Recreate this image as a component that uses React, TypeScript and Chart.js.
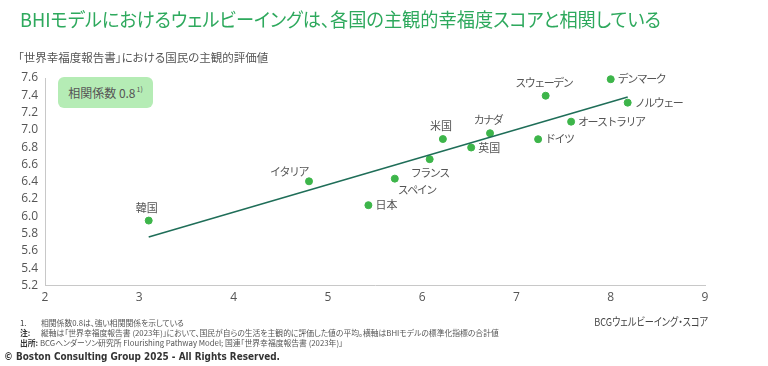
import React, { useEffect, useRef } from "react";
import { Chart, registerables } from "chart.js";

Chart.register(...registerables);

const countries = ["韓国", "イタリア", "日本", "スペイン", "フランス", "米国", "英国", "カナダ", "ドイツ", "オーストラリア", "スウェーデン", "デンマーク", "ノルウェー"];
const bhiScores = [3.10, 4.80, 5.43, 5.71, 6.08, 6.22, 6.52, 6.72, 7.23, 7.58, 7.31, 8.00, 8.18];
const happinessScores = [5.951, 6.405, 6.129, 6.436, 6.661, 6.894, 6.796, 6.961, 6.892, 7.095, 7.395, 7.586, 7.315];
const labelPlacement = ["above", "aboveLeft", "right", "belowRight", "below", "above", "right", "above", "right", "right", "above", "right", "right"];
const trendX = [3.10, 8.18];
const trendY = [5.76, 7.38];
const xTicks = [2, 3, 4, 5, 6, 7, 8, 9];
const yTicks = [5.2, 5.4, 5.6, 5.8, 6.0, 6.2, 6.4, 6.6, 6.8, 7.0, 7.2, 7.4, 7.6];

const LABEL_FONT = '11px "Noto Sans CJK JP"';

const pointLabelPlugin = {
  id: "pointLabels",
  afterDatasetsDraw(chart: any) {
    const ctx = chart.ctx;
    const xs = chart.scales.x;
    const ys = chart.scales.y;
    ctx.save();
    ctx.font = LABEL_FONT;
    ctx.fillStyle = "#555";
    countries.forEach((name, i) => {
      const px = xs.getPixelForValue(bhiScores[i]);
      const py = ys.getPixelForValue(happinessScores[i]);
      const kana = /[\u30A0-\u30FF]/.test(name);
      (ctx as any).letterSpacing = kana ? "-1.5px" : "0px";
      ctx.textBaseline = "middle";
      const p = labelPlacement[i];
      if (p === "above") {
        ctx.textAlign = "center";
        ctx.fillText(name, px - 2, py - 13);
      } else if (p === "below") {
        ctx.textAlign = "center";
        ctx.fillText(name, px, py + 14);
      } else if (p === "right") {
        ctx.textAlign = "left";
        ctx.fillText(name, px + 7, py);
      } else if (p === "aboveLeft") {
        ctx.textAlign = "center";
        ctx.fillText(name, px - 20, py - 10);
      } else if (p === "belowRight") {
        ctx.textAlign = "center";
        ctx.fillText(name, px + 22, py + 11);
      }
    });
    ctx.restore();
  },
};

export default function App() {
  const canvasRef = useRef<HTMLCanvasElement>(null);

  useEffect(() => {
    if (!canvasRef.current) return;
    const chart = new Chart(canvasRef.current, {
      type: "scatter",
      data: {
        datasets: [
          {
            label: "trend",
            type: "line" as any,
            data: trendX.map((x, i) => ({ x, y: trendY[i] })),
            borderColor: "#1f6e58",
            borderWidth: 1.5,
            pointRadius: 0,
            fill: false,
            showLine: true,
            clip: false,
          } as any,
          {
            label: "countries",
            data: bhiScores.map((x, i) => ({ x, y: happinessScores[i] })),
            backgroundColor: "#3db54a",
            borderColor: "#3db54a",
            pointRadius: 3.5,
            pointHoverRadius: 3.5,
            clip: false,
          } as any,
        ],
      },
      options: {
        animation: false,
        responsive: false,
        maintainAspectRatio: false,
        events: [],
        layout: { padding: { left: 0, right: 63, top: 78, bottom: 0 } },
        plugins: { legend: { display: false }, tooltip: { enabled: false } },
        scales: {
          x: {
            type: "linear",
            min: 2,
            max: 9,
            afterFit: (s: any) => { s.height = 80.5; },
            afterBuildTicks: (s: any) => { s.ticks = xTicks.map((v) => ({ value: v })); },
            grid: { display: false, drawTicks: false },
            border: { display: true, color: "#c8c8c8", width: 1 },
            ticks: { padding: 5, autoSkip: false, maxRotation: 0, color: "#555", font: { family: "'Open Sans'", size: 12 } },
          },
          y: {
            type: "linear",
            min: 5.2,
            max: 7.6,
            afterFit: (s: any) => { s.width = 45; },
            afterBuildTicks: (s: any) => { s.ticks = yTicks.map((v) => ({ value: v })); },
            grid: { display: false, drawTicks: false },
            border: { display: true, color: "#c8c8c8", width: 1 },
            ticks: {
              padding: 7,
              autoSkip: false,
              color: "#555",
              font: { family: "'Open Sans'", size: 12 },
              callback: (v: any) => Number(v).toFixed(1),
            },
          },
        },
      },
      plugins: [pointLabelPlugin],
    });
    return () => chart.destroy();
  }, []);

  const jp = '"Noto Sans CJK JP", sans-serif';
  const abs = (o: any): React.CSSProperties => ({ position: "absolute", whiteSpace: "nowrap", fontFeatureSettings: '"palt"', ...o });

  return (
    <div style={{ position: "absolute", left: 0, top: 0, width: 768, height: 366, background: "#fff", overflow: "hidden", fontFamily: jp }}>
      <canvas ref={canvasRef} width={768} height={366} style={{ position: "absolute", left: 0, top: 0, width: 768, height: 366 }} />
      <div style={abs({ left: 20, top: 6, fontSize: 19, color: "#2ea95d", lineHeight: "26px", transform: "scaleX(0.958)", transformOrigin: "left center" })}>
        BHIモデルにおけるウェルビーイングは、各国の主観的幸福度スコアと相関している
      </div>
      <div style={abs({ left: 18, top: 49, fontSize: 11.5, color: "#555", lineHeight: "16px" })}>
        「世界幸福度報告書」における国民の主観的評価値
      </div>
      <div style={abs({ left: 58, top: 77, width: 95, height: 31, borderRadius: 6, background: "#b5ecb5", display: "flex", alignItems: "center", justifyContent: "center", fontSize: 12, color: "#555" })}>
        <span>相関係数 0.8</span><span style={{ fontSize: 7, position: "relative", top: -4, marginLeft: 1 }}>1)</span>
      </div>
      <div style={abs({ right: 60, top: 313, fontSize: 11, color: "#444", lineHeight: "16px", transform: "scaleX(0.83)", transformOrigin: "right center" })}>
        BCGウェルビーイング・スコア
      </div>
      <div style={abs({ left: 20, top: 318, fontSize: 7.8, color: "#555", lineHeight: "10px" })}>
        <div><span style={{ display: "inline-block", width: 21, color: "#333" }}>1.</span>相関係数0.8は、強い相関関係を示している</div>
        <div><span style={{ display: "inline-block", width: 21, fontWeight: 700, color: "#333" }}>注:</span>縦軸は「世界幸福度報告書 (2023年)」において、国民が自らの生活を主観的に評価した値の平均。横軸はBHIモデルの標準化指標の合計値</div>
        <div><span style={{ fontWeight: 700, color: "#333" }}>出所: </span>BCGヘンダーソン研究所 Flourishing Pathway Model; 国連「世界幸福度報告書 (2023年)」</div>
      </div>
      <div style={abs({ left: 4, top: 349, fontSize: 10.5, fontWeight: 700, color: "#333", fontFamily: '"DejaVu Sans Condensed", "DejaVu Sans", sans-serif', lineHeight: "14px", transform: "scaleX(0.94)", transformOrigin: "left center" })}>
        © Boston Consulting Group 2025 - All Rights Reserved.
      </div>
    </div>
  );
}
